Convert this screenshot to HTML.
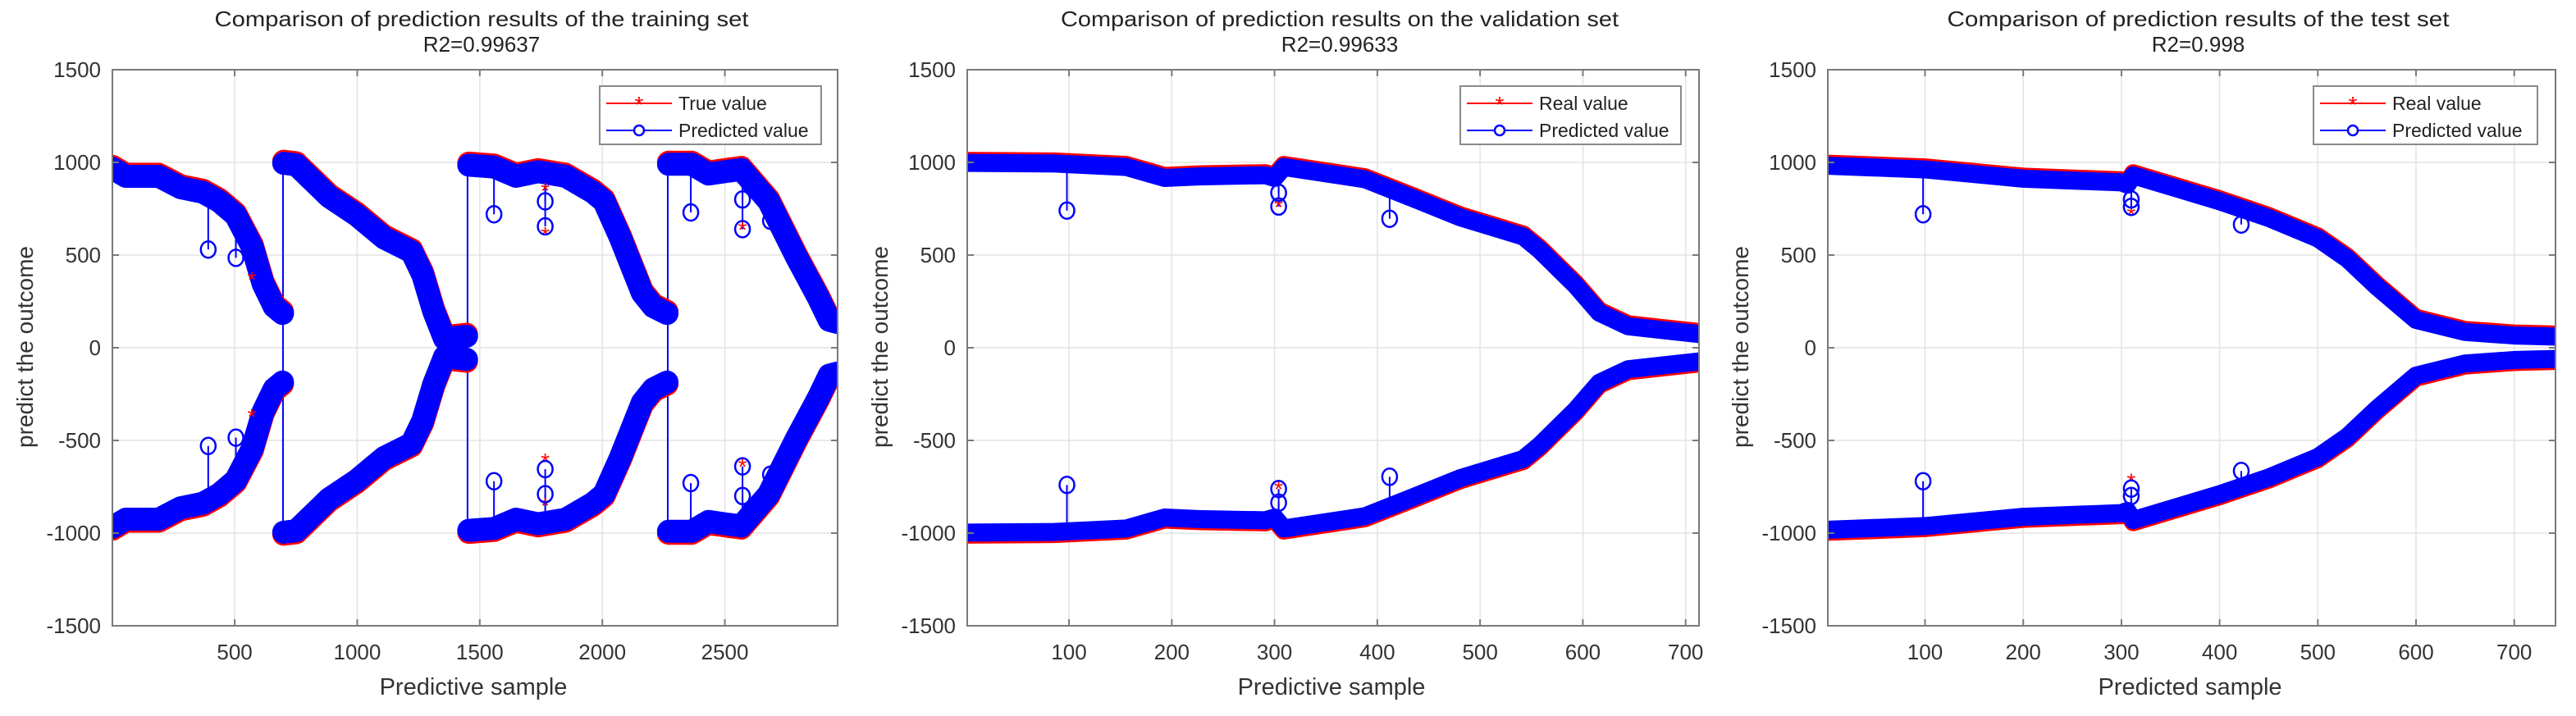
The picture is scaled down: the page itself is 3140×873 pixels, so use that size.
<!DOCTYPE html>
<html><head><meta charset="utf-8"><style>
html,body{margin:0;padding:0;background:#fff;}
svg{display:block;font-family:"Liberation Sans",Arial,sans-serif;}
</style></head><body>
<svg id="chart" width="3140" height="873" viewBox="0 0 3140 873"></svg>
<script>
// ---------- DATA ----------
// Panel 1 (training): upper-curve segments [sample, value]; lower curve mirrors them
const trainSeg1 = [[1,968],[56,925],[190,925],[280,863],[370,839],[437,790],[504,715],[572,543],[616,345],[661,222],[695,185]];
const trainSeg2 = [[700,995],[751,987],[886,814],[998,715],[1110,592],[1222,518],[1267,395],[1312,197],[1356,49],[1446,62]];
const trainSeg3 = [[1455,985],[1558,975],[1648,925],[1738,950],[1850,925],[1962,839],[2007,790],[2074,592],[2163,296],[2208,222],[2264,185]];
const trainSeg4 = [[2270,990],[2365,990],[2433,937],[2500,950],[2567,962],[2679,790],[2791,493],[2881,271],[2926,148],[2960,136]];
const trainJumps = [697, 1450, 2267];
const trainOutliers = [[392,530],[505,485],[1558,720],[1767,790],[1767,655],[2361,730],[2572,800],[2572,640],[2686,685]];
const trainRedStars = [[570,370],[1767,610],[1767,850],[2572,640]];
// Panel 2 (validation)
const valUpper = [[1,997],[86,994],[156,975],[193,916],[226,924],[291,931],[300,916],[309,975],[388,909],[435,806],[481,703],[542,600],[558,527],[593,336],[616,189],[644,116],[691,87],[713,74]];
const valOutliers = [[98,740],[304,836],[304,762],[412,696]];
const valRedStars = [[304,760]];
// Panel 3 (test)
const testUpper = [[1,982],[100,962],[200,912],[300,892],[306,880],[312,930],[400,790],[450,700],[500,590],[530,480],[560,330],[600,150],[650,85],[700,66],[742,60]];
const testOutliers = [[98,720],[310,800],[310,760],[422,665]];
const testRedStars = [[310,720]];
// Ticks
const yTicks = [-1500,-1000,-500,0,500,1000,1500];
const trainXTicks = [500,1000,1500,2000,2500];
const smallXTicks = [100,200,300,400,500,600,700];

// ---------- DRAW ----------
const NS='http://www.w3.org/2000/svg';
const svg=document.getElementById('chart');
function mk(tag,attrs,parent){const e=document.createElementNS(NS,tag);for(const k in attrs)e.setAttribute(k,attrs[k]);(parent||svg).appendChild(e);return e;}
function curveAt(segs,x){
  for(const seg of segs){
    if(x>=seg[0][0]&&x<=seg[seg.length-1][0]){
      for(let i=0;i<seg.length-1;i++){const a=seg[i],b=seg[i+1];
        if(x>=a[0]&&x<=b[0]){return a[1]+(b[1]-a[1])*(x-a[0])/((b[0]-a[0])||1);}}
    }
  }
  return null;
}

function panel(cfg){
  const g=mk('g',{});
  
  
  const L=cfg.left,R=cfg.right,T=85,B=763;
  const sx=v=>L+(v-cfg.xmin)/(cfg.xmax-cfg.xmin)*(R-L);
  const sy=v=>B-(v+1500)/3000*(B-T);
  yTicks.forEach(t=>{const l=mk('line',{x1:L,x2:R,y1:sy(t),y2:sy(t),stroke:'#e3e3e3','stroke-width':1.5},g);});
  cfg.xTicks.forEach(t=>{const l=mk('line',{x1:sx(t),x2:sx(t),y1:T,y2:B,stroke:'#e3e3e3','stroke-width':1.5},g);});
  const clip='clip'+cfg.id;
  const cp=mk('clipPath',{id:clip},g);mk('rect',{x:L,y:T,width:R-L,height:B-T},cp);
  const dg=mk('g',{'clip-path':'url(#'+clip+')'},g);
  (cfg.jumps||[]).forEach(x=>{const l=mk('line',{x1:sx(x),x2:sx(x),y1:sy(1000),y2:sy(-1000),stroke:'#0000ff','stroke-width':2},dg);});
  cfg.outliers.forEach(p=>{[1,-1].forEach(s=>{
    const c=curveAt(cfg.segments,p[0]); const cv=(c===null?p[1]+150:c);
    const l=mk('line',{x1:sx(p[0]),x2:sx(p[0]),y1:sy(s*p[1]),y2:sy(s*cv),stroke:'#0000ff','stroke-width':2},dg);
    });});
  const toPts=(seg,s,off)=>seg.map(p=>sx(p[0])+','+(sy(s*p[1])-s*off)).join(' ');
  cfg.segments.forEach(seg=>{[1,-1].forEach(s=>{
    const r=mk('polyline',{points:toPts(seg,s,2.5),fill:'none',stroke:'#ff0000','stroke-width':cfg.band,'stroke-linecap':'round','stroke-linejoin':'round'},dg);
    
  });});
  cfg.segments.forEach(seg=>{[1,-1].forEach(s=>{
    const b=mk('polyline',{points:toPts(seg,s,0),fill:'none',stroke:'#0000ff','stroke-width':cfg.band,'stroke-linecap':'round','stroke-linejoin':'round'},dg);
    
  });});
  cfg.stars.forEach(p=>{[1,-1].forEach(s=>{
    const t=mk('text',{x:sx(p[0]),y:sy(s*p[1])+10,'text-anchor':'middle','font-size':28,fill:'#ff0000'},dg);t.textContent='*';
    });});
  cfg.outliers.forEach(p=>{[1,-1].forEach(s=>{
    const c=mk('ellipse',{cx:sx(p[0]),cy:sy(s*p[1]),rx:9,ry:10,fill:'none',stroke:'#0000ff','stroke-width':2.5},dg);
    });});
  const bx=mk('rect',{x:L,y:T,width:R-L,height:B-T,fill:'none',stroke:'#7a7a7a','stroke-width':2},g);
  
  yTicks.forEach(t=>{
    mk('line',{x1:L,x2:L+8,y1:sy(t),y2:sy(t),stroke:'#7a7a7a','stroke-width':2},g);
    mk('line',{x1:R,x2:R-8,y1:sy(t),y2:sy(t),stroke:'#7a7a7a','stroke-width':2},g);
    const tx=mk('text',{x:L-14,y:sy(t)+9,'text-anchor':'end','font-size':26,fill:'#333'},g);tx.textContent=t;
    
  });
  cfg.xTicks.forEach(t=>{
    mk('line',{x1:sx(t),x2:sx(t),y1:B,y2:B-8,stroke:'#7a7a7a','stroke-width':2},g);
    mk('line',{x1:sx(t),x2:sx(t),y1:T,y2:T+8,stroke:'#7a7a7a','stroke-width':2},g);
    const tx=mk('text',{x:sx(t),y:804,'text-anchor':'middle','font-size':26,fill:'#333'},g);tx.textContent=t;
    
  });
  const cx=(L+R)/2+8;
  const t1=mk('text',{x:cx,y:32,'text-anchor':'middle','font-size':26,fill:'#222',textLength:cfg.titleW,lengthAdjust:'spacingAndGlyphs'},g);t1.textContent=cfg.title;
  
  const t2=mk('text',{x:cx,y:63,'text-anchor':'middle','font-size':26,fill:'#222'},g);t2.textContent=cfg.r2;
  
  const xl=mk('text',{x:cx-10,y:847,'text-anchor':'middle','font-size':29,fill:'#333'},g);xl.textContent=cfg.xlabel;
  
  const yl=mk('text',{x:0,y:0,'text-anchor':'middle','font-size':28,fill:'#333',transform:'translate('+(L-97)+','+423+') rotate(-90)'},g);yl.textContent='predict the outcome';
  
  const lg=mk('g',{},g);
  
  const lx=cfg.legX;
  mk('rect',{x:lx,y:105,width:cfg.legW,height:71,fill:'#fff',stroke:'#8a8a8a','stroke-width':2},lg);
  mk('line',{x1:lx+8,x2:lx+88,y1:126,y2:126,stroke:'#ff0000','stroke-width':2},lg);
  const st=mk('text',{x:lx+48,y:137,'text-anchor':'middle','font-size':28,fill:'#ff0000'},lg);st.textContent='*';
  const e1=mk('text',{x:lx+96,y:134,'font-size':23,fill:'#222'},lg);e1.textContent=cfg.leg1;
  
  mk('line',{x1:lx+8,x2:lx+88,y1:159,y2:159,stroke:'#0000ff','stroke-width':2},lg);
  mk('circle',{cx:lx+48,cy:159,r:6,fill:'#fff',stroke:'#0000ff','stroke-width':2.5},lg);
  const e2=mk('text',{x:lx+96,y:167,'font-size':23,fill:'#222'},lg);e2.textContent='Predicted value';
  
}

panel({id:1,name:'training-panel',left:137,right:1021,xmin:1,xmax:2960,xTicks:trainXTicks,
  segments:[trainSeg1,trainSeg2,trainSeg3,trainSeg4],jumps:trainJumps,outliers:trainOutliers,stars:trainRedStars,band:28,
  title:'Comparison of prediction results of the training set',titleW:651,r2:'R2=0.99637',xlabel:'Predictive sample',
  legX:731,legW:270,leg1:'True value'});
panel({id:2,name:'validation-panel',left:1179,right:2071,xmin:1,xmax:713,xTicks:smallXTicks,
  segments:[valUpper],outliers:valOutliers,stars:valRedStars,band:22,
  title:'Comparison of prediction results on the validation set',titleW:680,r2:'R2=0.99633',xlabel:'Predictive sample',
  legX:1780,legW:269,leg1:'Real value'});
panel({id:3,name:'test-panel',left:2228,right:3115,xmin:1,xmax:742,xTicks:smallXTicks,
  segments:[testUpper],outliers:testOutliers,stars:testRedStars,band:22,
  title:'Comparison of prediction results of the test set',titleW:612,r2:'R2=0.998',xlabel:'Predicted sample',
  legX:2820,legW:273,leg1:'Real value'});
</script>
</body></html>
